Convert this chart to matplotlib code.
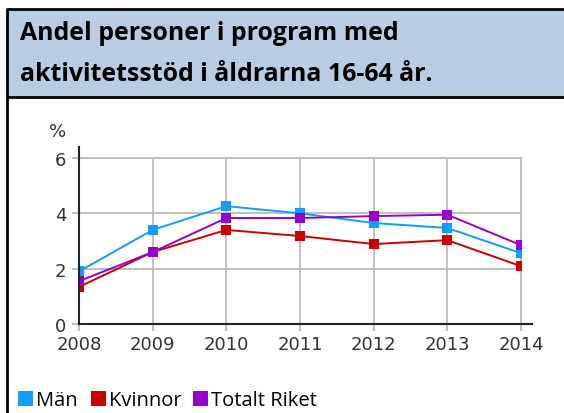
import matplotlib
matplotlib.use("Agg")
import matplotlib.pyplot as plt
from matplotlib.lines import Line2D
from matplotlib.patches import Rectangle

years = [2008, 2009, 2010, 2011, 2012, 2013, 2014]
man = [1.9, 3.4, 4.26, 4.0, 3.65, 3.47, 2.56]
kvinnor = [1.34, 2.6, 3.4, 3.18, 2.89, 3.03, 2.09]
totalt = [1.55, 2.6, 3.83, 3.83, 3.9, 3.95, 2.85]
series_names = ["Män", "Kvinnor", "Totalt Riket"]
colors = ["#119cff", "#cc0000", "#9900cc"]
yticks = [0, 2, 4, 6]
title_lines = ["Andel personer i program med", "aktivitetsstöd i åldrarna 16-64 år."]

W, H = 564, 414
fig = plt.figure(figsize=(W / 100, H / 100), dpi=100)

def fx(px):
    return px / W

def fy(py):
    return 1 - py / H

# Title box
fig.patches.append(Rectangle((fx(7), fy(98)), fx(W), fy(10) - fy(98),
                             transform=fig.transFigure, facecolor="#b8cce4",
                             edgecolor="none", zorder=0))
for (x0, y0, x1, y1) in [(7, 10, W, 10), (7, 98, W, 98), (7, 9, 7, H)]:
    fig.lines.append(Line2D([fx(x0), fx(x1)], [fy(y0), fy(y1)],
                            transform=fig.transFigure, color="black", lw=2.0,
                            solid_capstyle="butt"))
fig.text(fx(20), fy(40), title_lines[0], fontsize=17.9, fontweight="bold",
         family="Open Sans", color="black", va="baseline")
fig.text(fx(20), fy(81), title_lines[1], fontsize=17.9, fontweight="bold",
         family="Open Sans", color="black", va="baseline")

ax = fig.add_axes([fx(79), fy(325), fx(521) - fx(79), fy(159) - fy(325)])
for vals, c, name in zip([man, kvinnor, totalt], colors, series_names):
    ax.plot(years, vals, color=c, lw=1.4, marker="s", markersize=6.5,
            markeredgewidth=0, label=name, zorder=3)

ax.set_xlim(2008, 2014)
ax.set_ylim(0, 6)
ax.set_xticks(years)
ax.set_yticks(yticks)
ax.grid(True, color="#bbbbbb", lw=1.3, zorder=0)
for s in ["top", "right"]:
    ax.spines[s].set_color("#bbbbbb")
    ax.spines[s].set_linewidth(1.3)
for s in ["left", "bottom"]:
    ax.spines[s].set_visible(False)
ax.add_line(Line2D([0, 1.025], [0, 0], transform=ax.transAxes, color="#222222",
                   lw=1.5, clip_on=False, zorder=4))
ax.add_line(Line2D([0, 0], [0, 1.065], transform=ax.transAxes, color="#222222",
                   lw=1.5, clip_on=False, zorder=4))
ax.tick_params(axis="both", colors="#bbbbbb", labelcolor="#333333",
               labelsize=13, length=5, width=1.3)
ax.tick_params(axis="x", pad=3)
ax.tick_params(axis="y", pad=4)
ax.set_facecolor("white")
fig.text(fx(58), fy(132), "%", fontsize=13, color="#333333", ha="center",
         va="center")

# Legend
lx = [18, 91, 193]
for x0, c, name in zip(lx, colors, series_names):
    fig.patches.append(Rectangle((fx(x0), fy(407)), fx(15), fy(392) - fy(407),
                                 transform=fig.transFigure, facecolor=c,
                                 edgecolor="none"))
    fig.text(fx(x0 + 18), fy(406), name, fontsize=14.5, family="Open Sans",
             color="black", va="baseline")

fig.savefig("out.png", dpi=100)
